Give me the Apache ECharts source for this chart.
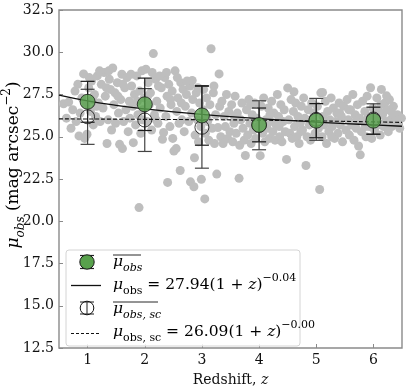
<!DOCTYPE html>
<html>
<head>
<meta charset="utf-8">
<script src="https://cdn.jsdelivr.net/npm/echarts@6/dist/echarts.min.js"></script>
<style>
html,body{margin:0;padding:0;background:#fff;}
#chart{width:407px;height:392px;}
</style>
</head>
<body>
<div id="chart"></div>
<script>
// ---- data ----
const zBins = [1, 2, 3, 4, 5, 6];
const meanObs = [27.07, 26.92, 26.26, 25.70, 25.95, 25.95];
const errObs = [1.21, 1.55, 1.76, 1.00, 1.01, 0.80];
const meanSc = [26.18, 25.99, 25.56, 25.68, 26.03, 26.05];
const errSc = [1.63, 1.86, 2.42, 1.45, 1.24, 0.90];

const fitX = [0.5, 1, 1.5, 2, 2.5, 3, 3.5, 4, 4.5, 5, 5.5, 6, 6.5];
const fitObs = [27.46, 27.12, 26.86, 26.65, 26.47, 26.32, 26.19, 26.07, 25.97, 25.87, 25.78, 25.70, 25.62];
const fitSc = [26.06, 26.05, 26.04, 26.03, 26.02, 26.01, 26.00, 25.98, 25.96, 25.94, 25.91, 25.88, 25.85];

const yTicks = [12.5, 15.0, 17.5, 20.0, 22.5, 25.0, 27.5, 30.0, 32.5];
const xTicks = [1, 2, 3, 4, 5, 6];

const cloud = [
[0.58,26.95],[0.63,26.1],[0.67,27.05],[0.71,25.5],[0.74,26.6],
[0.78,27.7],[0.80,25.9],[0.83,28.1],[0.85,25.05],[0.87,26.4],[0.90,27.3],[0.93,28.72],[0.95,24.9],[0.97,26.9],[0.99,25.15],
[1.02,27.9],[1.05,26.5],[1.07,28.3],[1.10,25.7],[1.12,27.5],[1.14,26.2],[1.17,28.6],[1.19,27.0],[1.22,25.9],[1.24,28.1],
[1.27,26.7],[1.29,28.8],[1.31,27.4],[1.34,24.6],[1.36,26.0],[1.38,28.4],[1.40,27.8],[1.42,25.4],[1.44,29.07],[1.46,26.9],[1.48,27.6],[1.49,25.8],
[1.52,28.2],[1.54,26.4],[1.56,24.55],[1.58,27.2],[1.60,28.7],[1.61,24.3],[1.63,25.9],[1.65,27.9],[1.67,26.6],[1.69,28.5],[1.71,25.3],[1.73,27.1],[1.74,26.1],
[1.77,28.0],[1.79,26.8],[1.80,24.65],[1.82,27.5],[1.84,25.7],[1.86,28.6],[1.88,26.3],[1.90,20.81],[1.91,27.7],[1.93,25.2],[1.95,28.9],[1.97,26.6],[1.99,27.3],
[2.02,29.0],[2.04,25.9],[2.06,28.2],[2.08,26.9],[2.10,27.6],[2.12,25.4],[2.15,29.92],[2.17,26.3],[2.19,28.4],[2.21,27.1],[2.23,25.8],[2.24,28.0],
[2.27,26.7],[2.29,27.9],[2.31,24.85],[2.33,25.25],[2.35,28.5],[2.37,26.2],[2.39,27.4],[2.40,22.3],[2.42,28.1],[2.44,25.6],[2.46,26.9],[2.48,27.7],[2.49,24.9],
[2.51,24.15],[2.53,28.9],[2.55,24.3],[2.56,26.5],[2.58,27.3],[2.60,25.8],[2.62,23.0],[2.63,28.2],[2.65,26.0],[2.67,27.8],[2.69,25.3],[2.71,26.8],[2.73,27.5],
[2.77,25.9],[2.79,28.0],[2.80,22.33],[2.82,26.4],[2.84,27.2],[2.86,22.04],[2.87,23.76],[2.88,25.1],[2.90,27.6],[2.92,26.0],[2.94,24.7],[2.96,27.0],[2.98,25.6],[2.99,22.48],
[3.02,26.6],[3.05,21.32],[3.06,25.2],[3.08,27.3],[3.10,25.9],[3.12,24.8],[3.14,26.9],[3.16,30.21],[3.18,25.5],[3.20,27.6],[3.22,24.6],[3.24,26.3],
[3.26,22.79],[3.28,25.54],[3.30,28.72],[3.31,26.8],[3.33,25.0],[3.35,27.1],[3.37,24.6],[3.39,26.2],[3.41,25.6],[3.43,27.5],[3.45,24.9],[3.47,26.5],[3.49,25.3],
[3.52,26.9],[3.54,24.7],[3.56,25.8],[3.58,27.4],[3.60,25.2],[3.62,26.4],[3.65,22.54],[3.66,24.5],[3.68,26.0],[3.70,27.0],[3.72,25.5],[3.74,24.8],
[3.76,23.89],[3.78,26.6],[3.80,25.1],[3.82,27.2],[3.84,25.8],[3.86,24.6],[3.88,26.3],[3.90,25.4],[3.92,27.0],[3.94,24.9],[3.96,26.1],[3.98,25.6],
[4.02,23.88],[4.04,26.8],[4.06,25.2],[4.08,27.3],[4.10,24.7],[4.12,26.0],[4.14,25.5],[4.16,26.7],[4.18,24.9],[4.20,25.9],[4.22,27.1],[4.24,25.3],
[4.26,26.4],[4.28,24.8],[4.30,25.7],[4.32,27.5],[4.34,26.2],[4.36,25.0],[4.38,26.9],[4.40,24.7],[4.42,25.9],[4.44,26.6],[4.46,25.3],[4.48,23.66],[4.50,27.89],
[4.52,26.0],[4.54,25.2],[4.56,27.2],[4.58,24.9],[4.60,26.5],[4.62,25.6],[4.64,27.0],[4.66,25.0],[4.68,26.2],[4.70,24.6],[4.72,25.8],[4.74,26.8],
[4.76,25.4],[4.78,27.3],[4.80,26.1],[4.82,23.3],[4.84,25.0],[4.86,26.6],[4.88,25.7],[4.90,24.8],[4.92,27.0],[4.94,25.9],[4.96,26.4],[4.98,25.2],
[5.02,26.8],[5.04,25.5],[5.06,21.88],[5.08,27.6],[5.10,25.0],[5.12,26.2],[5.14,25.7],[5.16,27.1],[5.18,24.6],[5.20,26.5],[5.22,25.3],[5.24,26.0],
[5.26,27.3],[5.28,25.6],[5.30,26.7],[5.32,24.9],[5.34,25.9],[5.36,26.4],[5.38,25.2],[5.40,27.0],[5.42,25.7],[5.44,26.2],[5.46,24.7],[5.48,26.8],
[5.52,25.4],[5.54,27.2],[5.56,26.0],[5.58,25.1],[5.60,26.6],[5.62,25.7],[5.64,27.5],[5.66,24.8],[5.68,26.3],[5.70,25.5],[5.72,26.9],[5.74,24.45],
[5.76,26.1],[5.77,23.93],[5.79,25.3],[5.81,27.1],[5.83,25.9],[5.85,26.5],[5.87,25.0],[5.89,27.4],[5.91,26.2],[5.93,25.6],[5.95,27.9],[5.97,24.9],[5.99,26.7],
[6.02,25.4],[6.04,26.0],[6.06,27.3],[6.08,25.7],[6.10,26.5],[6.12,25.1],[6.14,27.8],[6.16,26.3],[6.18,25.6],[6.20,27.0],[6.22,25.9],[6.24,26.6],
[6.26,25.3],[6.28,27.2],[6.30,26.0],[6.32,25.6],[6.35,26.8],[6.38,25.9],[6.42,26.3],[6.46,25.5],
[1.03,28.5],[1.09,27.2],[1.16,26.8],[1.21,28.9],[1.33,27.9],[1.37,28.9],[1.53,27.4],[1.62,28.1],[1.76,28.7],[1.87,27.1],
[1.96,26.0],[2.05,27.4],[2.13,28.8],[2.20,26.0],[2.26,28.6],[2.38,28.8],[2.45,27.2],[2.57,28.5],[2.64,27.0],[2.74,28.3],
[2.83,28.33],[2.93,27.9],[3.03,27.8],[3.21,28.0],[3.09,26.1],
[3.57,26.2],[3.85,26.9],[4.03,25.7],[4.19,26.3],[4.35,25.6],[4.61,27.66],[4.73,25.3],[4.91,26.0],[5.11,27.62],[5.27,25.0],
[5.41,26.4],[5.57,26.6],[5.69,25.9],[5.86,25.6],[6.01,26.3],[6.13,26.9],[6.23,27.42],[6.33,26.4],[6.44,25.9],[6.49,26.1]
];

// ---- chart ----
const FONT = "'DejaVu Serif', serif";
const chart = echarts.init(document.getElementById('chart'), null, {renderer: 'canvas'});

function errBars(means, errs, color, width) {
  return {
    type: 'custom',
    silent: true,
    data: zBins.map((z, i) => [z, means[i] - errs[i], means[i] + errs[i]]),
    renderItem: (params, api) => {
      const x = api.value(0);
      const lo = api.coord([x, api.value(1)]);
      const hi = api.coord([x, api.value(2)]);
      const w = 7;
      const st = {stroke: color, lineWidth: width};
      return {type: 'group', children: [
        {type: 'line', shape: {x1: lo[0], y1: lo[1], x2: hi[0], y2: hi[1]}, style: st},
        {type: 'line', shape: {x1: lo[0] - w, y1: lo[1], x2: lo[0] + w, y2: lo[1]}, style: st},
        {type: 'line', shape: {x1: hi[0] - w, y1: hi[1], x2: hi[0] + w, y2: hi[1]}, style: st}
      ]};
    }
  };
}

function mathRich(big, small, lh, slh) {
  return {
    m: {fontFamily: FONT, fontStyle: 'italic', fontSize: big, lineHeight: lh, verticalAlign: 'middle', color: '#111'},
    t: {fontFamily: FONT, fontSize: big, lineHeight: lh, verticalAlign: 'middle', color: '#111'},
    si: {fontFamily: FONT, fontStyle: 'italic', fontSize: small, lineHeight: slh, verticalAlign: 'bottom', color: '#111'},
    su: {fontFamily: FONT, fontSize: small, lineHeight: slh, verticalAlign: 'bottom', color: '#111'},
    sp: {fontFamily: FONT, fontSize: small, lineHeight: slh, verticalAlign: 'top', color: '#111'}
  };
}
const richLegend = mathRich(15.5, 11, 24, 13);
const richAxis = mathRich(14, 10, 22, 12);
const richY = mathRich(17, 12, 26, 14);

const LX = 113;
const legendGraphics = [
  {type: 'rect', shape: {x: 66, y: 250, width: 234, height: 96, r: 3}, style: {fill: 'rgba(255,255,255,0.85)', stroke: '#d4d4d4', lineWidth: 1}, z: 100},
  // row 1: green marker w/ error bar
  {type: 'line', shape: {x1: 87, y1: 255.5, x2: 87, y2: 268.5}, style: {stroke: '#222', lineWidth: 1.2}, z: 101},
  {type: 'line', shape: {x1: 80, y1: 255.5, x2: 94, y2: 255.5}, style: {stroke: '#222', lineWidth: 1.2}, z: 101},
  {type: 'line', shape: {x1: 80, y1: 268.5, x2: 94, y2: 268.5}, style: {stroke: '#222', lineWidth: 1.2}, z: 101},
  {type: 'circle', shape: {cx: 87, cy: 262, r: 7.2}, style: {fill: '#58a14c', stroke: '#1a1a1a', lineWidth: 1}, z: 102},
  {type: 'text', x: LX, y: 262, style: {text: '{m|μ}{si|obs}', rich: richLegend, verticalAlign: 'middle'}, z: 102},
  {type: 'line', shape: {x1: LX, y1: 255, x2: 141, y2: 255}, style: {stroke: '#111', lineWidth: 0.9}, z: 102},
  // row 2: solid line
  {type: 'line', shape: {x1: 71, y1: 285.5, x2: 101, y2: 285.5}, style: {stroke: '#111', lineWidth: 1.3}, z: 101},
  {type: 'text', x: LX, y: 285, style: {text: '{m|μ}{su|obs}{t| = 27.94(1 + }{m|z}{t|)}{sp|−0.04}', rich: richLegend, verticalAlign: 'middle'}, z: 102},
  // row 3: open marker w/ error bar
  {type: 'line', shape: {x1: 87, y1: 302, x2: 87, y2: 314}, style: {stroke: '#444', lineWidth: 1.2}, z: 101},
  {type: 'line', shape: {x1: 80, y1: 302, x2: 94, y2: 302}, style: {stroke: '#444', lineWidth: 1.2}, z: 101},
  {type: 'line', shape: {x1: 80, y1: 314, x2: 94, y2: 314}, style: {stroke: '#444', lineWidth: 1.2}, z: 101},
  {type: 'circle', shape: {cx: 87, cy: 308, r: 6.8}, style: {fill: 'none', stroke: '#111', lineWidth: 1}, z: 102},
  {type: 'text', x: LX, y: 309, style: {text: '{m|μ}{si|obs, sc}', rich: richLegend, verticalAlign: 'middle'}, z: 102},
  {type: 'line', shape: {x1: LX, y1: 302, x2: 158, y2: 302}, style: {stroke: '#111', lineWidth: 0.9}, z: 102},
  // row 4: dashed line
  {type: 'line', shape: {x1: 71, y1: 333.5, x2: 101, y2: 333.5}, style: {stroke: '#111', lineWidth: 1.1, lineDash: [3, 2]}, z: 101},
  {type: 'text', x: LX, y: 332, style: {text: '{m|μ}{su|obs, sc}{t| = 26.09(1 + }{m|z}{t|)}{sp|−0.00}', rich: richLegend, verticalAlign: 'middle'}, z: 102},
  // y-axis title
  {type: 'text', x: 14, y: 165, rotation: Math.PI / 2,
    style: {text: '{m|μ}{si|obs}{t| (mag arcsec}{sp|−2}{t|)}', rich: richY, align: 'center', verticalAlign: 'middle'}, z: 102}
];

const option = {
  animation: false,
  backgroundColor: '#fff',
  grid: {left: 59, right: 5, top: 10, bottom: 38, show: true, borderColor: '#8a8a8a', borderWidth: 1.4, containLabel: false},
  xAxis: {
    type: 'value', min: 0.5, max: 6.5,
    axisLine: {show: false},
    splitLine: {show: false},
    axisTick: {show: true, inside: true, length: 4, lineStyle: {color: '#8a8a8a'}, customValues: xTicks},
    axisLabel: {customValues: xTicks, fontFamily: FONT, fontSize: 14, color: '#111', margin: 5},
    name: '{t|Redshift, }{m|z}', nameLocation: 'middle', nameGap: 21,
    nameTextStyle: {rich: richAxis}
  },
  yAxis: {
    type: 'value', min: 12.5, max: 32.5, interval: 2.5,
    axisLine: {show: false},
    splitLine: {show: false},
    axisTick: {show: true, inside: true, length: 4, lineStyle: {color: '#8a8a8a'}},
    axisLabel: {fontFamily: FONT, fontSize: 14, color: '#111', margin: 5, formatter: v => v.toFixed(1)}
  },
  graphic: legendGraphics,
  series: [
    {type: 'scatter', data: cloud, symbolSize: 9, itemStyle: {color: '#bebebe', opacity: 1}, z: 1, silent: true},
    {type: 'line', data: fitX.map((x, i) => [x, fitObs[i]]), smooth: true, showSymbol: false, lineStyle: {color: '#111', width: 1.3}, z: 2, silent: true},
    {type: 'line', data: fitX.map((x, i) => [x, fitSc[i]]), smooth: true, showSymbol: false, lineStyle: {color: '#111', width: 1.1, type: [4, 2]}, z: 2, silent: true},
    Object.assign(errBars(meanSc, errSc, '#444', 1.2), {z: 3}),
    {type: 'scatter', data: zBins.map((z, i) => [z, meanSc[i]]), symbolSize: 14, itemStyle: {color: 'rgba(0,0,0,0)', borderColor: '#111', borderWidth: 1}, z: 4, silent: true},
    Object.assign(errBars(meanObs, errObs, '#1a1a1a', 1.2), {z: 5}),
    {type: 'scatter', data: zBins.map((z, i) => [z, meanObs[i]]), symbolSize: 15, itemStyle: {color: '#58a14c', borderColor: '#1a1a1a', borderWidth: 1}, z: 6, silent: true}
  ]
};
chart.setOption(option);
</script>
</body>
</html>
